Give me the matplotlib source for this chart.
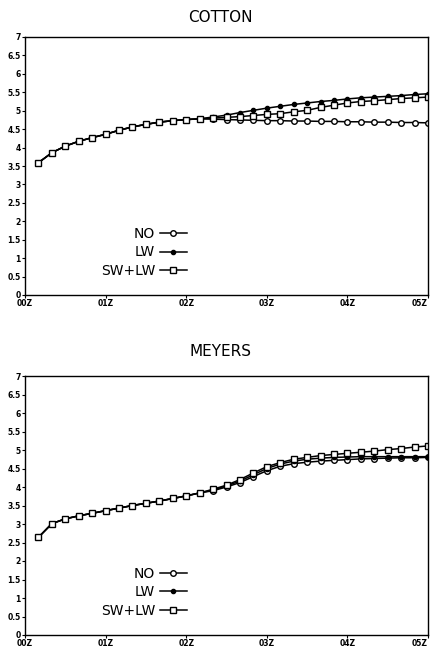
import numpy as np
import matplotlib
matplotlib.use("Agg")
import matplotlib.pyplot as plt

# time in minutes after 00Z, one point every 10 minutes
minutes = np.arange(10, 301, 10)
tick_pos = [0, 60, 120, 180, 240, 300]
tick_lab = ["00Z", "01Z", "02Z", "03Z", "04Z", "05Z"]

# COTTON: values
cot_common = [3.59, 3.86, 4.04, 4.17, 4.27, 4.36, 4.47, 4.56, 4.63, 4.69,
              4.73, 4.76, 4.78]
cot_no = cot_common + [4.77, 4.76, 4.75, 4.74, 4.73, 4.73, 4.72, 4.72, 4.71,
                       4.71, 4.70, 4.70, 4.69, 4.69, 4.68, 4.68, 4.67]
cot_lw = cot_common + [4.83, 4.88, 4.95, 5.01, 5.07, 5.12, 5.17, 5.21, 5.25,
                       5.28, 5.32, 5.35, 5.37, 5.39, 5.41, 5.44, 5.46]
cot_swlw = cot_common + [4.80, 4.82, 4.84, 4.87, 4.90, 4.92, 4.97, 5.01, 5.09,
                         5.15, 5.21, 5.25, 5.27, 5.30, 5.33, 5.35, 5.37]

# MEYERS
mey_common = [2.64, 3.01, 3.14, 3.22, 3.29, 3.36, 3.43, 3.50, 3.56, 3.62,
              3.69, 3.76, 3.84]
mey_no = mey_common + [3.90, 4.00, 4.12, 4.28, 4.44, 4.56, 4.63, 4.67, 4.70,
                       4.72, 4.74, 4.76, 4.77, 4.78, 4.79, 4.79, 4.80]
mey_lw = mey_common + [3.92, 4.03, 4.16, 4.33, 4.50, 4.62, 4.70, 4.75, 4.78,
                       4.80, 4.81, 4.82, 4.82, 4.82, 4.82, 4.82, 4.82]
mey_swlw = mey_common + [3.94, 4.05, 4.20, 4.38, 4.55, 4.66, 4.75, 4.80, 4.85,
                         4.88, 4.91, 4.94, 4.97, 5.01, 5.04, 5.08, 5.11]

fig = plt.figure(figsize=(4.32, 6.52), dpi=100)

def panel(rect, title, title_y, no, lw, swlw):
    ax = fig.add_axes(rect)
    ax.plot(minutes, no, color="black", lw=1.1, marker="o", ms=4,
            mfc="white", mec="black", mew=1.0, label="NO")
    ax.plot(minutes, lw, color="black", lw=1.1, marker="o", ms=3,
            mfc="black", mec="black", label="LW")
    ax.plot(minutes, swlw, color="black", lw=1.1, marker="s", ms=4,
            mfc="white", mec="black", mew=1.0, label="SW+LW")
    ax.set_xlim(0, 300)
    ax.set_ylim(0, 7)
    ax.set_xticks(tick_pos)
    ax.set_xticklabels(tick_lab, fontsize=5.5, fontweight="bold")
    # last label would run past the figure edge
    ax.get_xticklabels()[-1].set_horizontalalignment("right")
    ax.set_yticks(np.arange(0, 7.01, 0.5))
    ax.set_yticklabels(["%g" % v for v in np.arange(0, 7.01, 0.5)],
                       fontsize=5.5, fontweight="bold")
    ax.tick_params(length=2, width=0.8, pad=1)
    for s in ax.spines.values():
        s.set_linewidth(1.0)
    ax.legend(loc="lower right", bbox_to_anchor=(0.425, 0.03), frameon=False,
              markerfirst=False, fontsize=10, handlelength=1.9,
              handletextpad=0.35, labelspacing=0.3, borderpad=0.2)
    fig.text(220 / 432, title_y, title, ha="center", va="center", fontsize=11)
    return ax

panel([25 / 432, 1 - 295 / 652, 403 / 432, 258 / 652], "COTTON",
      1 - 18 / 652, cot_no, cot_lw, cot_swlw)
panel([25 / 432, 1 - 635 / 652, 403 / 432, 259 / 652], "MEYERS",
      1 - 352 / 652, mey_no, mey_lw, mey_swlw)

fig.savefig("out.png", dpi=100)
